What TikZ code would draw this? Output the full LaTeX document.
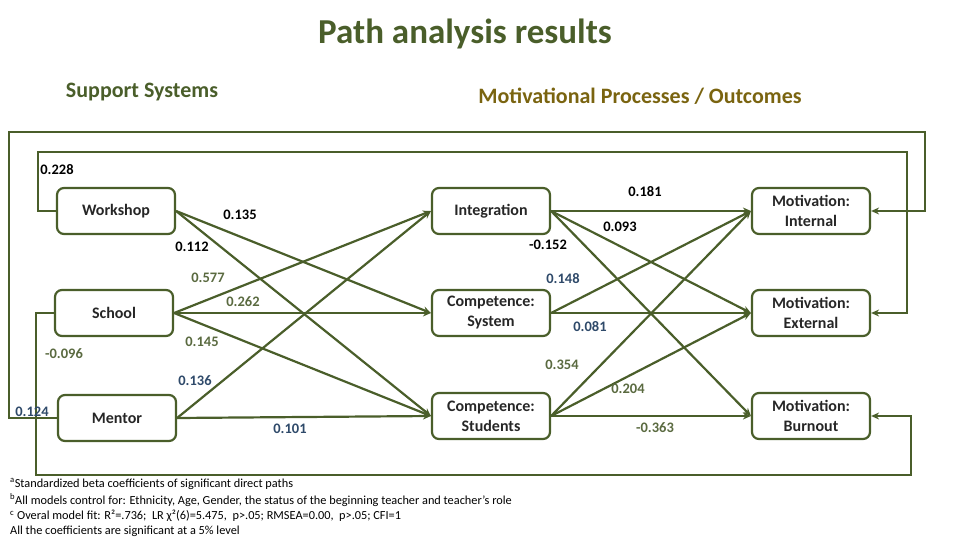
\documentclass[tikz,border=0pt]{standalone}
\usepackage{fontspec}
\setmainfont{Carlito}
\usetikzlibrary{arrows.meta}
\definecolor{dg}{HTML}{4A5E2A}
\definecolor{ol}{HTML}{7A6410}
\definecolor{lg}{HTML}{5A6A40}
\definecolor{lb}{HTML}{2F4A6A}
\begin{document}
\begin{tikzpicture}[x=1pt,y=-1pt,
 box/.style={draw=dg,line width=2.2pt,rounded corners=7pt,minimum width=118pt,minimum height=46pt,align=center,inner sep=1pt,font=\bfseries\fontsize{16}{20}\selectfont,text=black!85},
 ar/.style={draw=dg,line width=2.2pt,-{Stealth[length=8pt,width=7pt]}},
 fb/.style={draw=dg,line width=2.2pt},
 lk/.style={font=\bfseries\fontsize{14.5}{16}\selectfont,text=black},
 lgn/.style={font=\bfseries\fontsize{14.5}{16}\selectfont,text=lg},
 lbl/.style={font=\bfseries\fontsize{14.5}{16}\selectfont,text=lb}]
\useasboundingbox (0,0) rectangle (960,540);
\node[font=\bfseries\fontsize{35}{40}\selectfont,text=dg] (t) at (465,34) {Path analysis results};
\node[font=\bfseries\fontsize{22}{26}\selectfont,text=dg] (h1) at (142,92) {Support Systems};
\node[font=\bfseries\fontsize{22}{26}\selectfont,text=ol] (h2) at (640,96) {Motivational Processes / Outcomes};
\node[box] (w) at (116,211) {Workshop};
\node[box] (s) at (114,313) {School};
\node[box] (m) at (117,418) {Mentor};
\node[box] (i) at (491,211) {Integration};
\node[box] (cs) at (491,313) {Competence:\\System};
\node[box] (ct) at (491,416) {Competence:\\Students};
\node[box] (mi) at (811,211) {Motivation:\\Internal};
\node[box] (me) at (811,313) {Motivation:\\External};
\node[box] (mb) at (811,416) {Motivation:\\Burnout};
% feedback
\draw[fb,-{Stealth[length=8pt,width=7pt]}] (m.west) -- (9,418) -- (9,132) -- (925,132) -- (925,211) -- (mi.east);
\draw[fb,-{Stealth[length=8pt,width=7pt]}] (w.west) -- (38,211) -- (38,152) -- (907,152) -- (907,313) -- (me.east);
\draw[fb,-{Stealth[length=8pt,width=7pt]}] (s.west) -- (36,313) -- (36,475) -- (911,475) -- (911,416) -- (mb.east);
% left arrows
\draw[ar] (w.east) -- (cs.west);
\draw[ar] (w.east) -- (ct.west);
\draw[ar] (s.east) -- (i.west);
\draw[ar] (s.east) -- (cs.west);
\draw[ar] (s.east) -- (ct.west);
\draw[ar] (m.east) -- (i.west);
\draw[ar] (m.east) -- (ct.west);
% right arrows
\draw[ar] (i.east) -- (mi.west);
\draw[ar] (i.east) -- (me.west);
\draw[ar] (i.east) -- (mb.west);
\draw[ar] (cs.east) -- (mi.west);
\draw[ar] (cs.east) -- (me.west);
\draw[ar] (ct.east) -- (mi.west);
\draw[ar] (ct.east) -- (me.west);
\draw[ar] (ct.east) -- (mb.west);
% labels
\node[lk] (l1) at (57,170) {0.228};
\node[lk] (l2) at (240,215) {0.135};
\node[lk] (l3) at (192,247) {0.112};
\node[lgn] (l4) at (208,278) {0.577};
\node[lgn] (l5) at (243,302) {0.262};
\node[lgn] (l6) at (202,342) {0.145};
\node[lgn] (l7) at (64,354) {-0.096};
\node[lbl] (l8) at (195,381) {0.136};
\node[lbl] (l9) at (32,412) {0.124};
\node[lbl] (l10) at (290,429) {0.101};
\node[lk] (l11) at (645,192) {0.181};
\node[lk] (l12) at (620,227) {0.093};
\node[lk] (l13) at (548,245) {-0.152};
\node[lbl] (l14) at (563,279) {0.148};
\node[lbl] (l15) at (590,327) {0.081};
\node[lgn] (l16) at (562,365) {0.354};
\node[lgn] (l17) at (628,389) {0.204};
\node[lgn] (l18) at (655,428) {-0.363};
% footnotes
\begin{scope}[every node/.style={anchor=west,font=\fontsize{12.3}{14}\selectfont,inner sep=0pt}]
\node (f1) at (10,484) {\textsuperscript{a}Standardized beta coefficients of significant direct paths};
\node (f2) at (10,500) {\textsuperscript{b}All models control for: Ethnicity, Age, Gender, the status of the beginning teacher and teacher's role};
\node (f3) at (10,516) {\textsuperscript{c} Overal model fit: R²=.736; \ LR χ²(6)=5.475, \ p>.05; RMSEA=0.00, \ p>.05; CFI=1};
\node (f4) at (10,531) {All the coefficients are significant at a 5\% level};
\end{scope}
\end{tikzpicture}
\end{document}
